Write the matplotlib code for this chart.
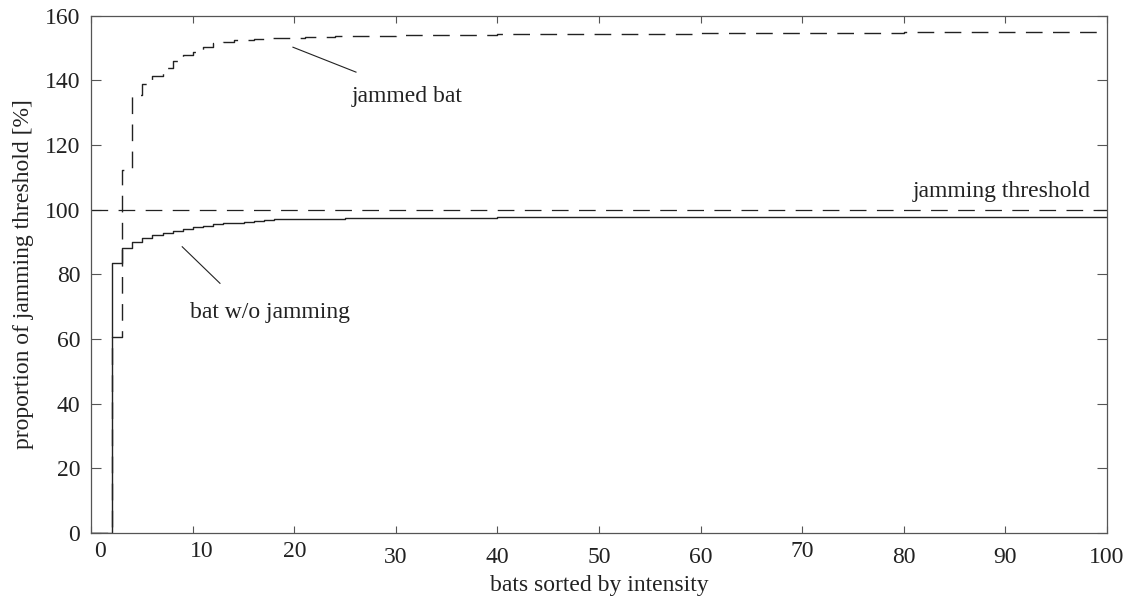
import matplotlib
matplotlib.use("Agg")
import matplotlib.pyplot as plt
from matplotlib.transforms import ScaledTranslation

plt.rcParams["font.family"] = ["Liberation Serif", "DejaVu Serif"]
plt.rcParams["lines.scale_dashes"] = False

# step edges (bat index where a new level starts) and levels, in % of threshold
plain_x = [0, 2, 3, 4, 5, 6, 7, 8, 9, 10, 11, 12, 13, 14, 15, 16, 17, 18,
           20, 25, 30, 40, 55, 75, 100]
plain_y = [0, 83.4, 88.2, 89.9, 91.3, 92.1, 92.8, 93.5, 94.1, 94.6, 95.0,
           95.4, 95.7, 96.0, 96.3, 96.6, 96.8, 97.0, 97.2, 97.4, 97.5, 97.6,
           97.7, 97.8, 97.8]

jammed_x = [0, 2, 3, 4, 5, 6, 7, 8, 9, 10, 11, 12, 13, 14, 16, 17, 19, 21,
            24, 30, 40, 60, 80, 100]
jammed_y = [0, 60.5, 112.2, 135.4, 138.7, 141.3, 143.7, 146.0, 147.8, 148.8,
            150.4, 151.4, 151.9, 152.4, 152.7, 152.9, 153.2, 153.5, 153.8,
            154.1, 154.4, 154.7, 154.9, 154.9]

threshold = 100
x_ticks = list(range(0, 101, 10))
y_ticks = list(range(0, 161, 20))
# small nudges (in points) of individual x tick labels
x_label_nudge = {0: (6, 0), 10: (6, 0), 30: (0, -4), 40: (0, -4),
                 50: (0, -4), 60: (0, -4), 80: (0, -4), 90: (0, -4),
                 100: (0, -4)}

ink = "#222222"
frame = "#555555"

fig = plt.figure(figsize=(11.32, 5.99), dpi=100)
ax = fig.add_axes([0.0808, 0.1102, 0.8967, 0.8639])

ax.axhline(threshold, color=ink, lw=0.9, dashes=(12, 7.5))
ax.step(plain_x, plain_y, where="post", color=ink, lw=1.0)
ax.step(jammed_x, jammed_y, where="post", color=ink, lw=1.0, dashes=(12, 7.5))

ax.set_xlim(0, 100)
ax.set_ylim(0, 160)
ax.set_xticks(x_ticks)
ax.set_yticks(y_ticks)

for s in ax.spines.values():
    s.set_color(frame)
    s.set_linewidth(0.9)
ax.tick_params(axis="both", direction="in", colors=frame, labelcolor=ink,
               labelsize=17, width=0.8)
ax.tick_params(axis="y", length=7, pad=8, right=True)
ax.tick_params(axis="x", length=5, pad=6, top=True)

for val, lab in zip(x_ticks, ax.get_xticklabels()):
    if val in x_label_nudge:
        dx, dy = x_label_nudge[val]
        lab.set_transform(lab.get_transform() +
                          ScaledTranslation(dx / 72, dy / 72, fig.dpi_scale_trans))

# labels with leader lines
ax.plot([19.85, 26.06], [150.2, 142.5], color=ink, lw=0.8)
ax.text(25.6, 135.1, "jammed bat", fontsize=17, color=ink, va="center")
ax.plot([8.94, 12.66], [88.5, 77.2], color=ink, lw=0.8)
ax.text(9.7, 68.2, "bat w/o jamming", fontsize=17, color=ink, va="center")
ax.text(98.4, 105.5, "jamming threshold", fontsize=17, color=ink,
        va="center", ha="right")

ax.set_xlabel("bats sorted by intensity", fontsize=17, color=ink)
ax.xaxis.set_label_coords(0.5, -0.082)
ax.set_ylabel("proportion of jamming threshold [%]", fontsize=17, color=ink)
ax.yaxis.set_label_coords(-0.057, 0.5)

fig.savefig("out.png", dpi=100)
